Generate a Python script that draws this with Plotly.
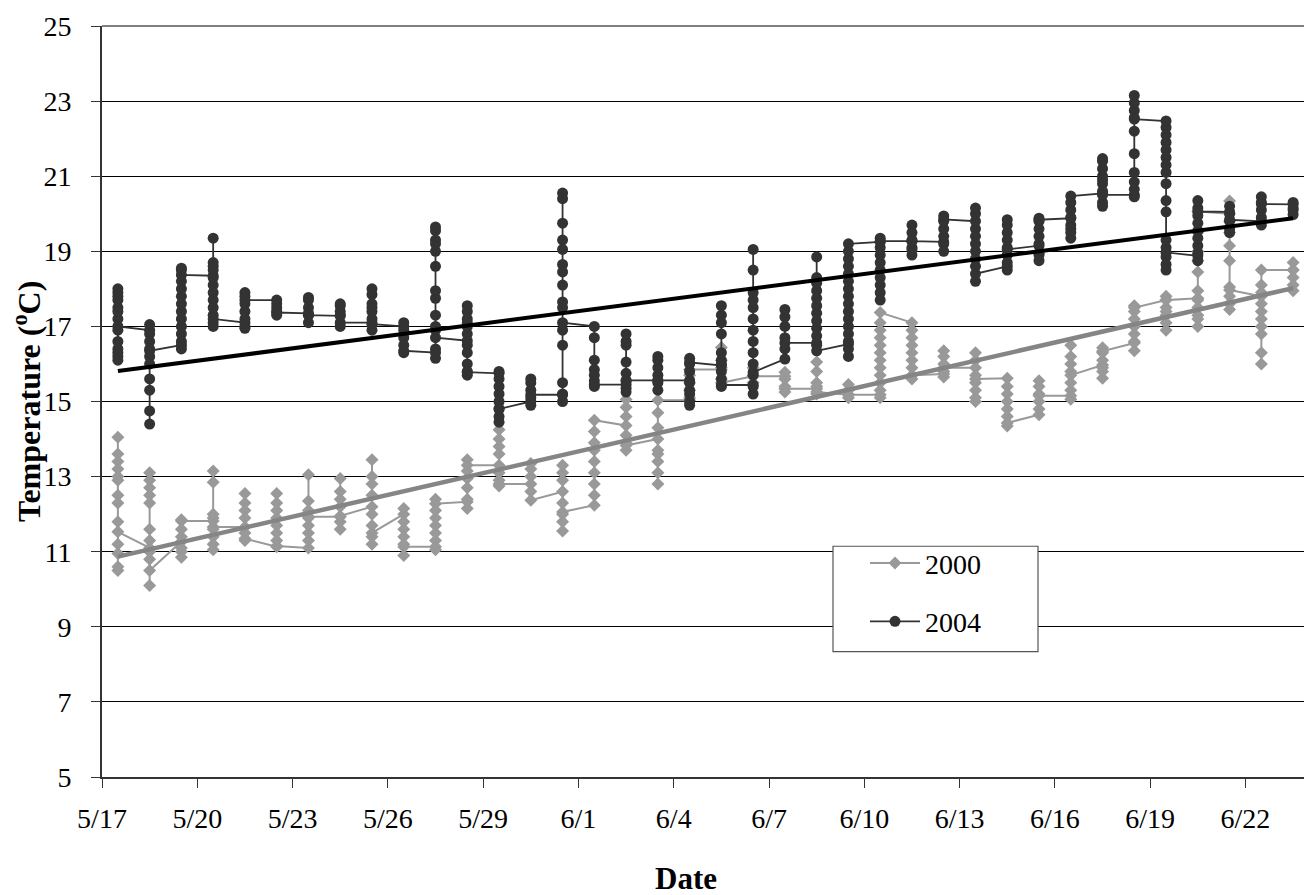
import numpy as np
import pandas as pd
import plotly.graph_objects as go

# ---------------- data ----------------
start_date = "2004-05-17"
n_days = 38  # 5/17 .. 6/23

# readings of each day (deg C), one inner list per day, in time order
temps_2000 = [
    [12.5, 13.0, 13.4, 13.6, 14.05, 13.2, 12.9, 12.3, 11.8, 11.2, 10.95, 10.6, 10.5, 11.53],
    [11.1, 11.3, 11.6, 12.3, 12.5, 12.7, 12.9, 13.1, 11.0, 10.8, 10.1, 10.5],
    [11.27, 11.0, 10.85, 11.1, 11.4, 11.6, 11.85, 11.82],
    [11.82, 12.0, 12.85, 13.15, 11.9, 11.6, 11.4, 11.2, 11.05, 11.66],
    [11.66, 11.9, 12.1, 12.3, 12.55, 11.5, 11.3, 11.35],
    [11.13, 11.3, 11.5, 11.7, 11.9, 12.1, 12.3, 12.55, 11.15],
    [11.1, 11.3, 11.5, 11.7, 11.9, 12.1, 12.35, 13.05, 11.93],
    [11.93, 11.6, 11.8, 12.2, 12.4, 12.6, 12.95, 11.95],
    [12.2, 12.5, 12.8, 13.0, 13.45, 12.0, 11.7, 11.4, 11.2, 11.5],
    [12.0, 12.15, 11.8, 11.6, 11.4, 11.2, 10.9, 11.13],
    [11.13, 11.05, 11.3, 11.5, 11.7, 11.9, 12.1, 12.4, 12.28],
    [12.33, 12.15, 12.4, 12.7, 12.95, 13.15, 13.45, 13.3],
    [13.3, 13.6, 13.8, 14.0, 14.25, 13.1, 12.9, 12.75, 12.8],
    [12.8, 13.0, 13.2, 13.35, 12.6, 12.37],
    [12.6, 12.9, 13.1, 13.3, 12.3, 12.0, 11.8, 11.55, 12.06],
    [12.24, 12.5, 12.8, 13.1, 13.4, 13.7, 13.9, 14.2, 14.5],
    [14.36, 14.6, 14.85, 15.05, 14.1, 13.9, 13.7, 13.83],
    [14.0, 13.7, 13.4, 13.1, 12.8, 13.6, 14.3, 14.7, 15.03],
    [15.03, 15.1, 15.3, 15.5, 15.7, 15.85],
    [15.85, 16.1, 16.44, 15.9, 15.6, 15.5],
    [15.67, 15.5, 15.7, 15.9, 15.67],
    [15.67, 15.78, 15.6, 15.4, 15.25, 15.34],
    [15.34, 15.5, 15.8, 16.05, 15.4, 15.2, 15.25],
    [15.18, 15.3, 15.45, 15.1, 15.18],
    [15.18, 15.1, 15.3, 15.5, 15.7, 15.9, 16.1, 16.3, 16.5, 16.7, 16.9, 17.1, 17.37],
    [17.1, 16.9, 16.7, 16.5, 16.3, 16.1, 15.9, 15.6, 15.7],
    [15.73, 15.65, 15.8, 16.0, 16.2, 16.35, 15.9],
    [15.9, 16.1, 16.3, 15.7, 15.5, 15.3, 15.1, 15.0, 15.6],
    [15.62, 15.4, 15.2, 15.0, 14.8, 14.6, 14.35, 14.43],
    [14.65, 14.8, 15.0, 15.2, 15.4, 15.55, 15.15],
    [15.15, 15.06, 15.3, 15.5, 15.8, 16.0, 16.2, 16.5, 15.7],
    [15.97, 15.8, 15.62, 15.9, 16.1, 16.3, 16.43, 16.34],
    [16.56, 16.35, 16.6, 16.8, 17.0, 17.2, 17.4, 17.55, 17.5],
    [17.7, 17.5, 17.3, 17.1, 16.9, 17.4, 17.8, 17.7],
    [17.75, 17.5, 17.2, 17.0, 17.3, 17.7, 17.95, 18.45, 18.75, 19.0, 19.5, 20.06],
    [20.0, 20.34, 19.8, 19.5, 19.15, 18.75, 18.05, 17.8, 17.6, 17.45, 17.97],
    [17.8, 17.6, 17.4, 17.2, 17.0, 16.8, 16.3, 16.0, 17.9, 18.1, 18.5],
    [18.5, 18.7, 18.5, 18.3, 18.1, 17.95],
]

temps_2004 = [
    [16.4, 16.2, 16.1, 16.3, 16.6, 16.9, 17.2, 17.5, 17.7, 17.9, 18.0, 17.8, 17.4, 17.0],
    [16.9, 17.05, 16.8, 16.6, 16.4, 16.2, 16.0, 15.6, 15.3, 14.75, 14.4, 16.35],
    [16.5, 16.4, 16.6, 16.8, 17.0, 17.2, 17.4, 17.6, 17.8, 18.0, 18.2, 18.5, 18.55, 18.37],
    [18.35, 18.6, 18.7, 19.35, 18.5, 18.3, 18.1, 17.9, 17.7, 17.5, 17.3, 17.1, 17.0, 17.2],
    [17.1, 16.95, 17.0, 17.2, 17.4, 17.6, 17.8, 17.9, 17.7],
    [17.7, 17.6, 17.5, 17.4, 17.3, 17.37],
    [17.35, 17.1, 17.3, 17.5, 17.7, 17.77, 17.3],
    [17.28, 17.4, 17.55, 17.6, 17.3, 17.0, 17.1],
    [17.1, 16.9, 17.2, 17.4, 17.6, 17.85, 18.0, 17.5, 17.06],
    [17.0, 17.1, 16.9, 16.7, 16.5, 16.3, 16.35],
    [16.3, 16.15, 16.4, 16.9, 17.3, 17.75, 17.95, 18.6, 19.0, 19.3, 19.55, 19.65, 19.2, 17.0, 16.7],
    [16.62, 16.8, 17.0, 17.2, 17.4, 17.55, 17.1, 16.5, 16.3, 16.0, 15.8, 15.7, 15.78],
    [15.75, 15.8, 15.6, 15.4, 15.2, 15.0, 14.8, 14.6, 14.45, 14.8],
    [15.0, 14.9, 15.1, 15.3, 15.5, 15.6, 15.18],
    [15.18, 15.0, 15.2, 15.5, 16.5, 16.9, 17.5, 17.65, 18.1, 18.45, 18.65, 19.05, 19.3, 19.75, 20.4, 20.55, 17.1],
    [17.0, 16.7, 16.1, 15.85, 15.7, 15.55, 15.4, 15.45],
    [15.45, 15.25, 15.35, 15.55, 15.75, 16.05, 16.5, 16.6, 16.8, 15.56],
    [15.56, 15.3, 15.5, 15.7, 15.9, 16.1, 16.2, 15.56],
    [15.56, 15.3, 15.0, 14.9, 15.2, 15.5, 15.8, 16.0, 16.15, 16.04],
    [15.96, 16.1, 16.3, 16.8, 17.1, 17.3, 17.55, 16.0, 15.8, 15.6, 15.4, 15.44],
    [15.44, 15.2, 15.4, 15.7, 16.0, 16.3, 16.6, 16.9, 17.2, 17.5, 17.7, 17.9, 18.5, 19.05, 15.78],
    [16.13, 16.4, 16.7, 17.0, 17.25, 17.45, 16.56],
    [16.56, 16.75, 16.95, 17.15, 17.35, 17.55, 17.75, 17.95, 18.15, 18.3, 18.85, 16.5, 16.35],
    [16.53, 16.2, 16.4, 16.6, 16.8, 17.0, 17.2, 17.4, 17.6, 17.8, 18.0, 18.2, 18.4, 18.6, 18.8, 19.0, 19.2],
    [19.25, 19.35, 19.1, 18.9, 18.7, 18.5, 18.3, 18.1, 17.9, 17.7, 19.27],
    [19.27, 19.1, 18.9, 19.05, 19.3, 19.5, 19.7, 19.27],
    [19.25, 19.0, 19.2, 19.4, 19.6, 19.8, 19.94, 19.85],
    [19.8, 20.0, 20.15, 19.6, 19.4, 19.2, 19.0, 18.8, 18.6, 18.2, 18.4],
    [18.6, 18.5, 18.7, 18.9, 19.1, 19.3, 19.5, 19.7, 19.84, 19.05],
    [19.15, 18.95, 18.75, 18.9, 19.2, 19.4, 19.6, 19.8, 19.88, 19.84],
    [19.88, 19.6, 19.35, 19.5, 19.7, 19.9, 20.1, 20.3, 20.47],
    [20.54, 20.8, 21.0, 21.2, 21.4, 21.47, 20.9, 20.6, 20.3, 20.2, 20.5],
    [20.5, 20.45, 20.65, 20.85, 21.1, 21.6, 22.2, 22.55, 22.75, 22.95, 23.15, 22.52],
    [22.47, 22.3, 22.1, 21.9, 21.7, 21.5, 21.3, 21.1, 20.8, 20.35, 20.05, 19.3, 19.1, 18.85, 18.65, 18.5, 18.97],
    [18.88, 18.75, 18.95, 19.15, 19.35, 19.55, 19.75, 19.95, 20.15, 20.35, 20.06],
    [20.05, 20.2, 20.0, 19.8, 19.6, 19.5, 19.84],
    [19.8, 19.7, 19.9, 20.1, 20.3, 20.45, 20.26],
    [20.25, 20.1, 19.98, 20.15, 20.3],
]

# linear trend values on the first and last day
trend_2000 = [10.87, 18.02]
trend_2004 = [15.81, 19.88]

tick_labels = ["5/17", "5/20", "5/23", "5/26", "5/29", "6/1", "6/4",
               "6/7", "6/10", "6/13", "6/16", "6/19", "6/22"]

# ---------------- build ----------------
t0 = pd.Timestamp(start_date)
day_dates = [t0 + pd.Timedelta(days=i, hours=12) for i in range(n_days)]


def flatten(days):
    xs, ys = [], []
    for d, vals in zip(day_dates, days):
        xs += [d] * len(vals)
        ys += vals
    return xs, ys


x00, y00 = flatten(temps_2000)
x04, y04 = flatten(temps_2004)
trend_x = [day_dates[0], day_dates[-1]]
tick_vals = [t0 + pd.Timedelta(days=3 * i) for i in range(len(tick_labels))]

FONT = "Liberation Serif, Times New Roman, serif"
DARK = "#333333"
GRAY = "#999999"

# page geometry of the plot area (page has an 8px body margin)
PL, PR, PT, PB = 102, 1309, 22, 777
PW, PH = PR - PL, PB - PT


def px(x):
    return (x - PL) / PW


def py(y):
    return (PB - y) / PH


fig = go.Figure()
fig.add_trace(go.Scatter(
    x=x00, y=y00, name="2000", mode="lines+markers",
    line=dict(color=GRAY, width=2),
    marker=dict(symbol="diamond", size=10, color=GRAY),
    legendgroup="a"))
fig.add_trace(go.Scatter(
    x=x04, y=y04, name="2004", mode="lines+markers",
    line=dict(color=DARK, width=1.8),
    marker=dict(symbol="circle", size=11, color=DARK),
    legendgroup="b"))
fig.add_trace(go.Scatter(
    x=trend_x, y=trend_2000, mode="lines", showlegend=False,
    line=dict(color="#858585", width=4.5), hoverinfo="skip"))
fig.add_trace(go.Scatter(
    x=trend_x, y=trend_2004, mode="lines", showlegend=False,
    line=dict(color="#000000", width=4), hoverinfo="skip"))

fig.update_layout(
    width=1304, height=887, autosize=False,
    margin=dict(l=PL - 8, r=1304 - (PR - 8), t=PT - 8, b=887 - (PB - 8)),
    paper_bgcolor="white", plot_bgcolor="white",
    font=dict(family=FONT, size=28, color="black"),
    showlegend=True,
    legend=dict(
        x=px(865), y=py(537), xanchor="left", yanchor="top",
        bgcolor="rgba(0,0,0,0)", borderwidth=0,
        font=dict(family=FONT, size=28, color="black"),
        traceorder="grouped", tracegroupgap=19, itemwidth=50),
    xaxis=dict(
        type="date", range=[t0, t0 + pd.Timedelta(days=n_days)],
        tickvals=tick_vals, ticktext=tick_labels,
        showgrid=False, zeroline=False,
        showline=True, linecolor="#333333", linewidth=2,
        ticks="outside", ticklen=9, tickcolor="#333333", tickwidth=1.2,
        tickfont=dict(family=FONT, size=28, color="black"),
        ticklabelstandoff=6, ticklabeloverflow="allow"),
    yaxis=dict(
        range=[5, 25], dtick=2, tick0=5,
        showgrid=True, gridcolor="#000000", gridwidth=1,
        zeroline=False,
        showline=True, linecolor="#333333", linewidth=2,
        ticks="outside", ticklen=9, tickcolor="#333333", tickwidth=1.2,
        tickfont=dict(family=FONT, size=28, color="black"),
        ticklabelstandoff=14, ticklabeloverflow="allow"),
    shapes=[
        dict(type="line", xref="paper", yref="paper", x0=0, x1=1, y0=1, y1=1,
             line=dict(color="#7f7f7f", width=2), layer="above"),
        dict(type="line", xref="paper", yref="paper", x0=1, x1=1, y0=0, y1=1,
             line=dict(color="#7f7f7f", width=2), layer="above"),
        dict(type="rect", xref="paper", yref="paper",
             x0=px(833), x1=px(1038), y0=py(651), y1=py(545),
             line=dict(color="#555555", width=1.2), fillcolor="white",
             layer="above"),
    ],
    annotations=[
        dict(text="<b>Date</b>", xref="paper", yref="paper",
             x=px(686), y=py(879), xanchor="center", yanchor="middle",
             showarrow=False, font=dict(family=FONT, size=31, color="black")),
        dict(text="<b>Temperature (<sup>o</sup>C)</b>", xref="paper", yref="paper",
             x=px(27), y=py(400), xanchor="center", yanchor="middle",
             textangle=-90, showarrow=False, font=dict(family=FONT, size=32, color="black")),
    ],
)

fig.write_html("out.html")
